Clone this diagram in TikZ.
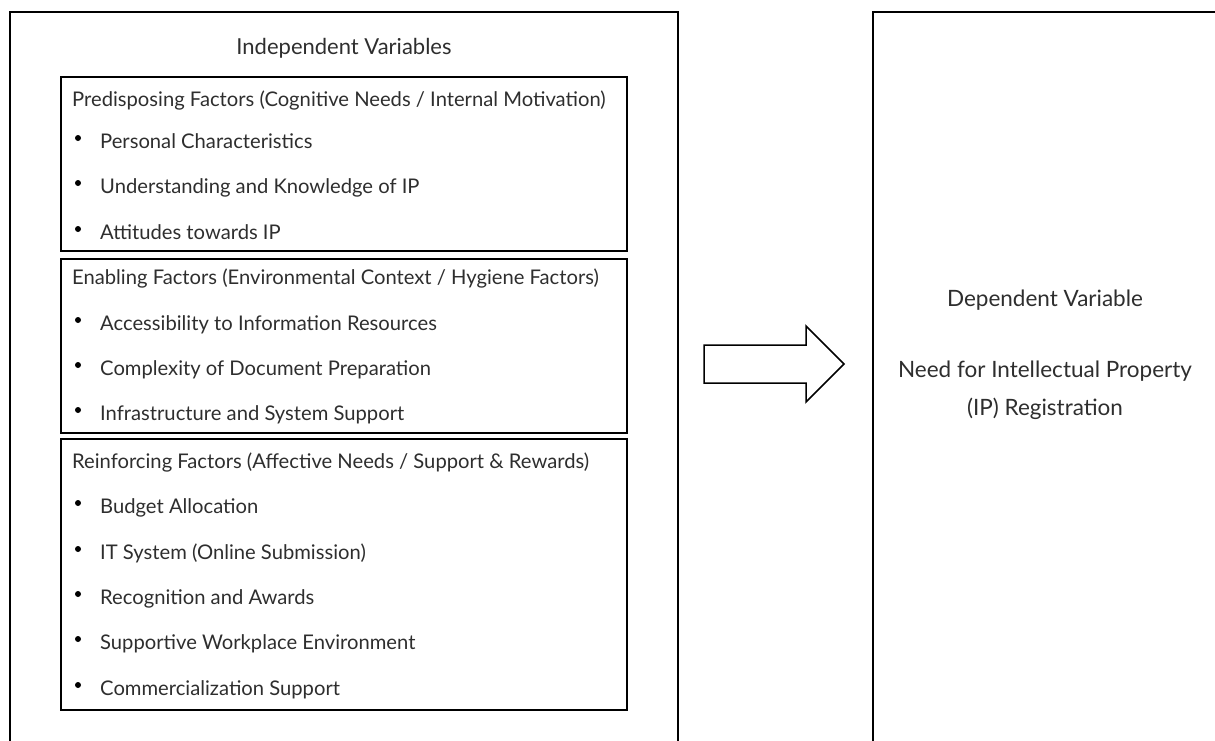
\documentclass[tikz,border=0pt]{standalone}
\usepackage{fontspec}
\setmainfont{Lato}
\begin{document}
\begin{tikzpicture}[x=1pt,y=-1pt,
  frame/.style={draw=black,line width=1.8pt},
  sub/.style={draw=black,line width=1.8pt},
  txt/.style={inner sep=0pt,anchor=base west,font=\fontsize{20.2}{23}\selectfont,text=black!82},
  ctxt/.style={inner sep=0pt,anchor=base,font=\fontsize{22}{25}\selectfont,text=black!82},
  rtxt/.style={inner sep=0pt,anchor=base,font=\fontsize{22.5}{26}\selectfont,text=black!82},
  bul/.style={circle,fill=black,inner sep=0pt,minimum size=6pt},
  blockarrow/.style={draw=black,line width=1.5pt,fill=white,line join=miter}]
\useasboundingbox (0,0) rectangle (1215,740);
\clip (0,0) rectangle (1215,740);
% outer frames
\draw[frame] (10,12) rectangle (678,770);
\draw[frame] (873,12) rectangle (1240,770);
\node[ctxt] (title) at (344,54) {Independent Variables};
% inner boxes
\draw[sub] (61,77) rectangle (627,251);
\draw[sub] (61,259) rectangle (627,433);
\draw[sub] (61,439) rectangle (627,710);
% box 1
\node[txt] (h1) at (72,106) {Predisposing Factors (Cognitive Needs / Internal Motivation)};
\node[bul] (b11) at (78,138) {}; \node[txt] (i11) at (100,148) {Personal Characteristics};
\node[bul] (b12) at (78,183) {}; \node[txt] (i12) at (100,193) {Understanding and Knowledge of IP};
\node[bul] (b13) at (78,229) {}; \node[txt] (i13) at (100,239) {Attitudes towards IP};
% box 2
\node[txt] (h2) at (72,284) {Enabling Factors (Environmental Context / Hygiene Factors)};
\node[bul] (b21) at (78,320) {}; \node[txt] (i21) at (100,330) {Accessibility to Information Resources};
\node[bul] (b22) at (78,365) {}; \node[txt] (i22) at (100,375) {Complexity of Document Preparation};
\node[bul] (b23) at (78,410) {}; \node[txt] (i23) at (100,420) {Infrastructure and System Support};
% box 3
\node[txt] (h3) at (72,468) {Reinforcing Factors (Affective Needs / Support \& Rewards)};
\node[bul] (b31) at (78,503) {}; \node[txt] (i31) at (100,513) {Budget Allocation};
\node[bul] (b32) at (78,549) {}; \node[txt] (i32) at (100,559) {IT System (Online Submission)};
\node[bul] (b33) at (78,594) {}; \node[txt] (i33) at (100,604) {Recognition and Awards};
\node[bul] (b34) at (78,639) {}; \node[txt] (i34) at (100,649) {Supportive Workplace Environment};
\node[bul] (b35) at (78,685) {}; \node[txt] (i35) at (100,695) {Commercialization Support};
% block arrow
\coordinate (arr) at (704,364);
\draw[blockarrow] (arr) ++(0,-19) -- ++(102,0) -- ++(0,-19) -- ++(38,38) -- ++(-38,38) -- ++(0,-19) -- ++(-102,0) -- cycle;
% dependent variable
\node[rtxt] (dv) at (1045,306) {Dependent Variable};
\node[rtxt] (dv1) at (1045,377) {Need for Intellectual Property};
\node[rtxt] (dv2) at (1045,415) {(IP) Registration};
\end{tikzpicture}
\end{document}
